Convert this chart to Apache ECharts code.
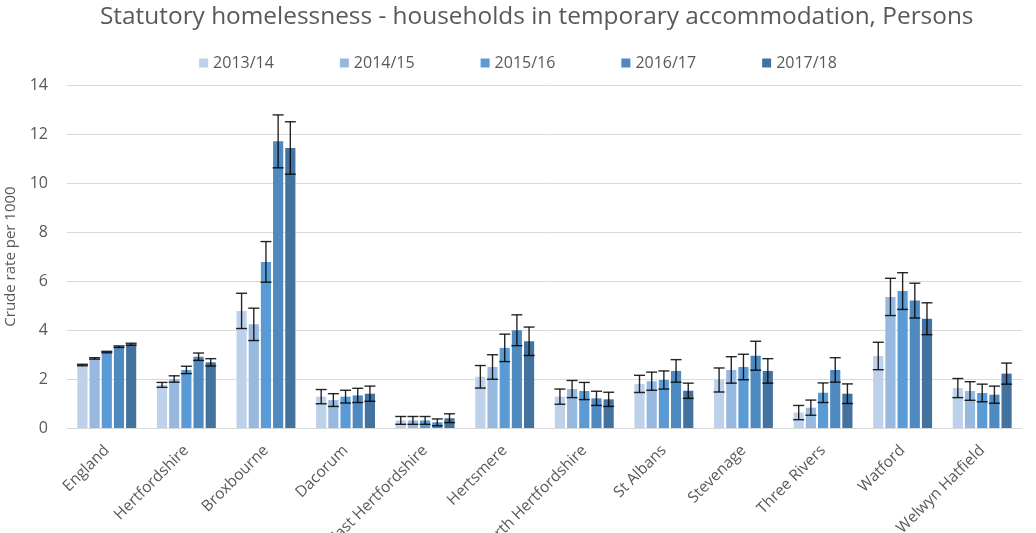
<!DOCTYPE html>
<html><head><meta charset="utf-8">
<script src="https://cdn.jsdelivr.net/npm/echarts@6/dist/echarts.min.js"></script>
<style>html,body{margin:0;padding:0;background:#fff}#c{width:1036px;height:533px}</style>
</head><body><div id="c"></div>
<script>
var categories = ['England','Hertfordshire','Broxbourne','Dacorum','East Hertfordshire','Hertsmere','North Hertfordshire','St Albans','Stevenage','Three Rivers','Watford','Welwyn Hatfield'];
var years = ['2013/14','2014/15','2015/16','2016/17','2017/18'];
var v1314 = [2.57,1.76,4.78,1.28,0.31,2.09,1.28,1.80,1.96,0.63,2.94,1.63];
var v1415 = [2.84,2.00,4.23,1.14,0.31,2.49,1.59,1.91,2.37,0.83,5.35,1.51];
var v1516 = [3.10,2.37,6.78,1.28,0.31,3.27,1.51,1.96,2.49,1.44,5.59,1.43];
var v1617 = [3.32,2.91,11.70,1.33,0.23,3.99,1.21,2.33,2.95,2.37,5.20,1.36];
var v1718 = [3.42,2.68,11.43,1.40,0.40,3.54,1.17,1.52,2.33,1.40,4.46,2.22];
var e1314 = [0.03,0.10,0.72,0.29,0.16,0.46,0.31,0.35,0.49,0.29,0.56,0.39];
var e1415 = [0.03,0.13,0.66,0.26,0.16,0.50,0.35,0.37,0.54,0.31,0.76,0.38];
var e1516 = [0.03,0.15,0.83,0.26,0.16,0.56,0.35,0.37,0.52,0.40,0.75,0.36];
var e1617 = [0.03,0.15,1.08,0.29,0.14,0.63,0.29,0.46,0.59,0.50,0.71,0.35];
var e1718 = [0.04,0.15,1.07,0.31,0.18,0.58,0.29,0.31,0.50,0.40,0.65,0.43];
var yTicks = [0,2,4,6,8,10,12,14];

var values = [v1314,v1415,v1516,v1617,v1718];
var errors = [e1314,e1415,e1516,e1617,e1718];
var colors = ['#BDD1EA','#98B9DF','#5B9BD5','#4E8AC0','#43729F'];
var CAT_GAP = 0.26, BAR_GAP = 0.2, N = 5;

var series = [];
years.forEach(function(y,i){
  series.push({
    name: y, type: 'bar', data: values[i],
    barCategoryGap: (CAT_GAP*100)+'%', barGap: (BAR_GAP*100)+'%',
    itemStyle: {color: colors[i]}, emphasis:{disabled:true}
  });
});
years.forEach(function(y,i){
  var data = values[i].map(function(v,k){ return [k, v-errors[i][k], v+errors[i][k]]; });
  series.push({
    name: 'err'+y, type: 'custom', data: data, z: 5,
    encode: {x:0, y:[1,2]},
    renderItem: function(params, api){
      var k = api.value(0);
      var lo = api.coord([k, api.value(1)]);
      var hi = api.coord([k, api.value(2)]);
      var band = api.size([1,0])[0];
      var bw = band*(1-CAT_GAP)/(N+(N-1)*BAR_GAP);
      var total = N*bw+(N-1)*bw*BAR_GAP;
      var cx = lo[0] - total/2 + i*bw*(1+BAR_GAP) + bw/2;
      var cap = 5.5;
      var st = {stroke:'rgba(0,0,0,0.85)', lineWidth:1.4};
      return {type:'group', children:[
        {type:'line', shape:{x1:cx,y1:lo[1],x2:cx,y2:hi[1]}, style:st},
        {type:'line', shape:{x1:cx-cap,y1:lo[1],x2:cx+cap,y2:lo[1]}, style:st},
        {type:'line', shape:{x1:cx-cap,y1:hi[1],x2:cx+cap,y2:hi[1]}, style:st}
      ]};
    }
  });
});

var chart = echarts.init(document.getElementById('c'));
chart.setOption({
  animation: false,
  textStyle: {fontFamily: "'Open Sans', sans-serif"},
  title: {text: 'Statutory homelessness - households in temporary accommodation, Persons',
    left: 95, top: 0,
    textStyle: {fontSize: 24.4, fontWeight: 'normal', color: '#595959', fontFamily: "'Open Sans', sans-serif"}},
  legend: {data: years, top: 50, left: 'center', itemWidth: 9, itemHeight: 9, itemGap: 66,
    icon: 'rect', textStyle: {fontSize: 16, color: '#595959'}},
  grid: {left: 67, right: 14, top: 85, bottom: 105, outerBoundsMode: 'none', containLabel: false},
  xAxis: {type: 'category', data: categories,
    axisLine: {lineStyle: {color: '#D9D9D9'}}, axisTick: {show: false},
    axisLabel: {rotate: 45, fontSize: 15.5, color: '#595959', margin: 20, interval: 0}},
  yAxis: {type: 'value', min: yTicks[0], max: yTicks[yTicks.length-1], interval: 2,
    name: 'Crude rate per 1000', nameLocation: 'middle', nameGap: 49, nameRotate: 90,
    nameTextStyle: {fontSize: 15, color: '#595959'},
    axisLabel: {fontSize: 16, color: '#595959', margin: 19},
    splitLine: {lineStyle: {color: '#D9D9D9', width: 1}},
    axisLine: {show: false}, axisTick: {show: false}},
  series: series
});
</script></body></html>
